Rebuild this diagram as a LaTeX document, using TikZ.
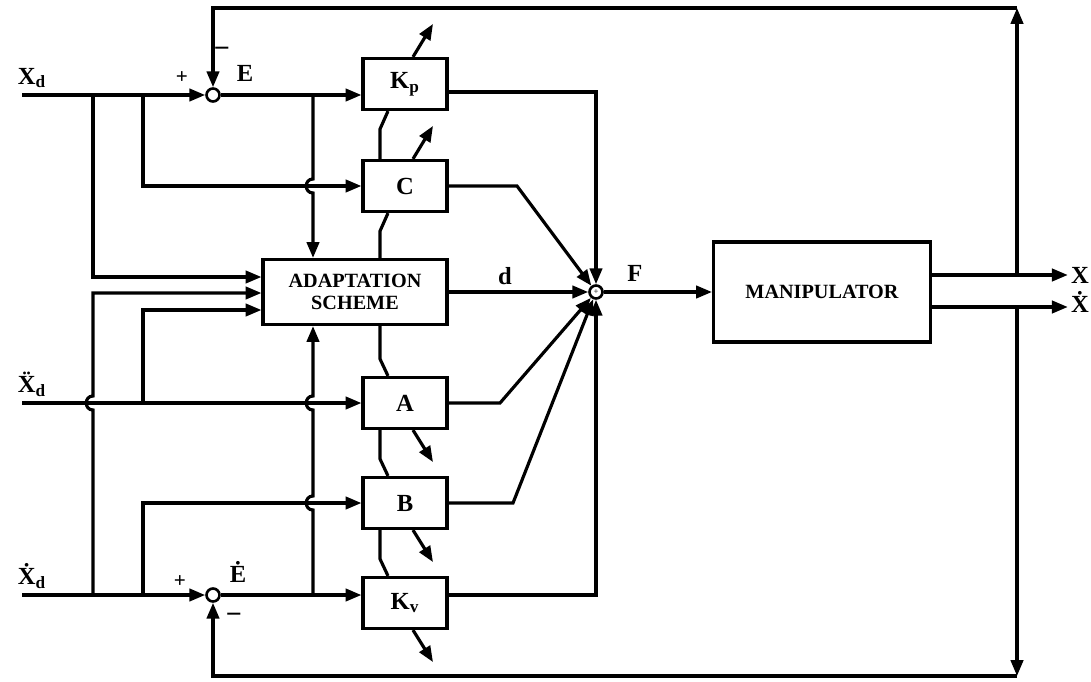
\documentclass[tikz,border=0pt]{standalone}
\usepackage{fontspec}
\setmainfont{Liberation Serif}
\usetikzlibrary{arrows.meta,calc}

\begin{document}
\begin{tikzpicture}[x=0.02cm,y=-0.02cm,line width=1.8pt,
  >={Triangle[length=9pt,width=7pt]},
  blk/.style={draw,minimum width=1.68cm,minimum height=1.02cm,inner sep=0pt,
    font=\bfseries\fontsize{14}{16}\selectfont},
  big/.style={draw,inner sep=0pt,align=center,font=\bfseries\fontsize{11.5}{12.5}\selectfont},
  sumc/.style={circle,draw,minimum size=0.26cm,inner sep=0pt,line width=1.5pt},
  lbl/.style={font=\bfseries\fontsize{14}{16}\selectfont,inner sep=1pt},
  sgn/.style={font=\bfseries\fontsize{12}{12}\selectfont,inner sep=0pt}]
\useasboundingbox (0,0) rectangle (1091,682);

% gain blocks
\node[blk] (Kp) at (405,84) {K\textsubscript{p}};
\node[blk] (C) at (405,186) {C};
\node[big,minimum width=3.68cm,minimum height=1.3cm] (adapt) at (355,292) {ADAPTATION\\SCHEME};
\node[blk] (A) at (405,403) {A};
\node[blk] (B) at (405,503) {B};
\node[blk] (Kv) at (405,603) {K\textsubscript{v}};
\node[big,minimum width=4.34cm,minimum height=2cm] (manip) at (822,292) {MANIPULATOR};

% summing junctions
\node[sumc] (sumE) at (213,95) {};
\node[sumc] (sumEd) at (213,595) {};
\node[sumc,font=\tiny] (sumF) at (596,292) {+};

% labels
\node[lbl] (xd) at (32,78) {X\textsubscript{d}};
\node[lbl] (xdd) at (32,384) {\"X\textsubscript{d}};
\node[lbl] (xdt) at (32,576) {\.X\textsubscript{d}};
\node[lbl] (lE) at (245,73) {E};
\node[lbl] (lEd) at (238,572) {\.E};
\node[sgn] (pE) at (182,78) {+};
\node[sgn,font=\bfseries\fontsize{16}{16}\selectfont] (mE) at (222,52) {−};
\node[sgn] (pEd) at (180,582) {+};
\node[sgn,font=\bfseries\fontsize{16}{16}\selectfont] (mEd) at (234,618) {−};
\node[lbl] (ld) at (505,276) {d};
\node[lbl] (lF) at (635,273) {F};
\node[lbl] (X) at (1080,275) {X};
\node[lbl] (Xd) at (1080,302) {\.X};

% branch points
\coordinate (xdin) at (22,95);
\coordinate (xddin) at (22,403);
\coordinate (xdtin) at (22,595);
\coordinate (p1) at (93,95);
\coordinate (p2) at (143,95);
\coordinate (p3) at (313,95);
\coordinate (p4) at (143,403);
\coordinate (p5) at (93,595);
\coordinate (p6) at (143,595);
\coordinate (p7) at (313,595);
\coordinate (tapX) at (1017,275);
\coordinate (tapV) at (1017,307);
\coordinate (topR) at (1017,8);
\coordinate (botR) at (1017,676);

% inputs
\draw[->] (xdin) -- (sumE);
\draw[->] (sumE) -- (Kp.west |- sumE);
\draw[->] (p1) |- (adapt.west |- 0,277);
\draw[->] (p2) |- (C.west);
\draw[->] (p3) -- (313,179) .. controls (304,179) and (304,193) .. (313,193) -- (p3 |- adapt.north);
\draw[->] (xddin) -- (A.west);
\draw[->] (p4) |- (adapt.west |- 0,310);
\draw[->] (xdtin) -- (sumEd);
\draw[->] (sumEd) -- (Kv.west |- sumEd);
\draw[->] (p5) -- (93,410) .. controls (84,410) and (84,396) .. (93,396) |- (adapt.west |- 0,293);
\draw[->] (p6) |- (B.west);
\draw[->] (p7) -- (313,510) .. controls (304,510) and (304,496) .. (313,496)
  -- (313,410) .. controls (304,410) and (304,396) .. (313,396) -- (p7 |- adapt.south);

% adaptation links and gain arrows
\foreach \lo/\up in {adapt/C, C/Kp}
  \draw ($(\up.south)+(-17,0)$) -- ++(-8,18) coordinate (k) -- (k |- \lo.north);
\foreach \up/\lo in {adapt/A, A/B, B/Kv}
  \draw ($(\lo.north)+(-17,0)$) -- ++(-8,-17) coordinate (k) -- (k |- \up.south);
\foreach \b in {Kp,C}
  \draw[->] ($(\b.north)+(8,0)$) -- ++(20,-33);
\foreach \b in {A,B,Kv}
  \draw[->] ($(\b.south)+(8,0)$) -- ++(20,32);

% outputs into the sum
\draw[->] (Kp.east |- 0,92) -| (sumF);
\draw[->] (C.east) -- (517,186) -- (sumF);
\draw[->] (adapt.east) -- (sumF);
\draw[->] (A.east) -- (500,403) -- (sumF);
\draw[->] (B.east) -- (513,503) -- (sumF);
\draw[->] (Kv.east |- sumEd) -| (sumF);
\draw[->] (sumF) -- (manip);

% plant outputs and feedback
\draw[->] (manip.east |- tapX) -- (X.west |- tapX);
\draw[->] (manip.east |- tapV) -- (Xd.west |- tapV);
\draw[->] (tapX) -- (topR);
\draw[->] (topR) -| (sumE);
\draw[->] (tapV) -- (botR);
\draw[->] (botR) -| (sumEd);
\end{tikzpicture}
\end{document}
